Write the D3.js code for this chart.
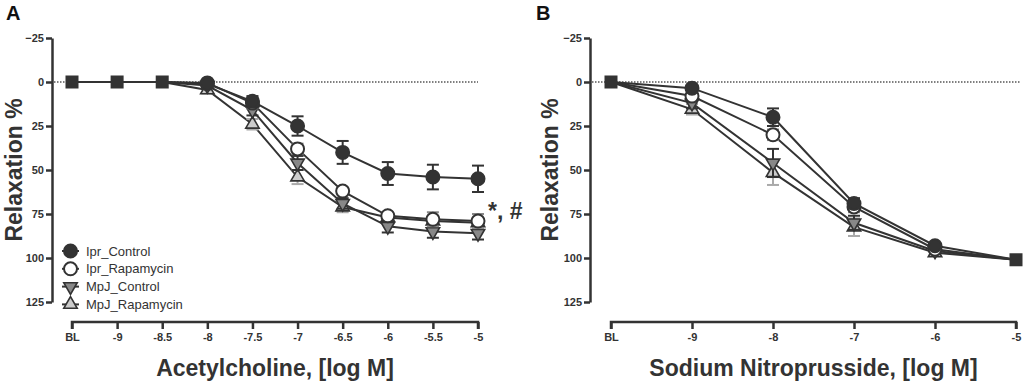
<!DOCTYPE html>
<html>
<head>
<meta charset="utf-8">
<script src="https://cdn.jsdelivr.net/npm/d3@7"></script>
<style>
  body { margin: 0; background: #fff; }
  svg { display: block; font-family: "Liberation Sans", Arial, sans-serif; }
</style>
</head>
<body>
<div id="viz"></div>
<script>
// Panel A - acetylcholine
const doseA = ["BL", "-9", "-8.5", "-8", "-7.5", "-7", "-6.5", "-6", "-5.5", "-5"];
const iprCtrlA = [0, 0, 0, 1, 11, 25, 40, 52, 54, 55];
const iprRapaA = [0, 0, 0, 0.5, 12, 38, 62, 76, 78, 79];
const mpjCtrlA = [0, 0, 0, 2, 16, 46, 69, 82, 85, 86];
const mpjRapaA = [0, 0, 0, 4.5, 24, 54, 71, 77, 79, 80];
const iprCtrlErrA = [0, 0, 0, 1, 3, 5.5, 6.5, 6.5, 7, 7.5];
const iprRapaErrA = [0, 0, 0, 1, 3, 3, 2, 2, 4, 4];
const mpjCtrlErrA = [0, 0, 0, 1, 3, 4, 3, 3.5, 3.5, 3.5];
const mpjRapaErrA = [0, 0, 0, 2, 3, 4, 3, 2, 2, 2];

// Panel B - sodium nitroprusside
const doseB = ["BL", "-9", "-8", "-7", "-6", "-5"];
const iprCtrlB = [0, 3.5, 20, 69, 93, 101];
const iprRapaB = [0, 8, 30, 71, 95, 101];
const mpjCtrlB = [0, 12, 46, 80, 96, 101];
const mpjRapaB = [0, 15.5, 51.5, 82.5, 97, 101];
const iprCtrlErrB = [0, 1, 5, 3, 1, 1];
const iprRapaErrB = [0, 1, 3, 3, 1, 1];
const mpjCtrlErrB = [0, 3, 8, 4, 1, 1];
const mpjRapaErrB = [0, 3, 7, 5, 1, 1];

const yTicks = [-25, 0, 25, 50, 75, 100, 125];
const seriesNames = ["Ipr_Control", "Ipr_Rapamycin", "MpJ_Control", "MpJ_Rapamycin"];

const dark = "#333";
const styles = {
  "Ipr_Control":   { shape: "circle", fill: dark,   err: dark },
  "Ipr_Rapamycin": { shape: "circle", fill: "#fff", err: "#888" },
  "MpJ_Control":   { shape: "down",   fill: "#888", err: dark },
  "MpJ_Rapamycin": { shape: "up",     fill: "#ccc", err: "#aaa" }
};

const svg = d3.select("#viz").append("svg")
  .attr("width", 1024)
  .attr("height", 382);

const y = d3.scaleLinear().domain([-25, 125]).range([38, 302]);

function marker(g, shape, fill, cx, cy) {
  if (shape === "circle") {
    g.append("circle").attr("cx", cx).attr("cy", cy).attr("r", 6.5)
      .attr("fill", fill).attr("stroke", dark).attr("stroke-width", 2);
  } else {
    g.append("path")
      .attr("d", d3.symbol().type(d3.symbolTriangle).size(78))
      .attr("transform", `translate(${cx},${cy})` + (shape === "down" ? " rotate(180)" : ""))
      .attr("fill", fill).attr("stroke", dark).attr("stroke-width", 1.6);
  }
}

function drawPanel(opt) {
  const g = svg.append("g");
  const x = d3.scalePoint().domain(opt.doses).range(opt.xRange);

  // y axis
  const yAx = g.append("g")
    .attr("transform", `translate(${opt.yAxisX},0)`)
    .call(d3.axisLeft(y).tickValues(yTicks).tickSize(6).tickSizeOuter(0).tickFormat(d3.format("d")));
  yAx.select(".domain").attr("stroke", dark).attr("stroke-width", 2.5);
  yAx.selectAll(".tick line").attr("stroke", dark).attr("stroke-width", 2.5);
  yAx.selectAll(".tick text")
    .attr("font-family", "'Liberation Sans Narrow', 'Liberation Sans', sans-serif")
    .attr("font-size", 11).attr("font-weight", "bold").attr("fill", dark).attr("x", -8);

  // x axis
  const xAx = g.append("g")
    .attr("transform", "translate(0,322)")
    .call(d3.axisBottom(x).tickSize(7).tickSizeOuter(0));
  xAx.select(".domain").attr("stroke", dark).attr("stroke-width", 2.5)
    .attr("d", `M${opt.xRange[0]},7V0H${opt.xRange[1]}V7`);
  xAx.selectAll(".tick line").attr("stroke", dark).attr("stroke-width", 2.5);
  xAx.selectAll(".tick text")
    .attr("font-family", "'Liberation Sans Narrow', 'Liberation Sans', sans-serif")
    .attr("font-size", 11).attr("font-weight", "bold").attr("fill", dark).attr("y", 11);

  // dotted zero line
  g.append("line")
    .attr("x1", opt.yAxisX + 2).attr("x2", opt.zeroEnd)
    .attr("y1", y(0)).attr("y2", y(0))
    .attr("stroke", "#000").attr("stroke-width", 1.2).attr("stroke-dasharray", "1.5,1.5");

  // axis titles
  g.append("text")
    .attr("transform", `translate(${opt.yTitleX},${y(50)}) rotate(-90)`)
    .attr("text-anchor", "middle").attr("dominant-baseline", "central")
    .attr("font-size", 23).attr("font-weight", "bold").attr("fill", dark)
    .text("Relaxation %");
  g.append("text")
    .attr("x", (opt.xRange[0] + opt.xRange[1]) / 2).attr("y", 376)
    .attr("text-anchor", "middle")
    .attr("font-size", 23).attr("font-weight", "bold").attr("fill", dark)
    .text(opt.xTitle);

  g.append("text")
    .attr("x", opt.labelX).attr("y", 20)
    .attr("font-size", 20).attr("font-weight", "bold").attr("fill", "#111")
    .text(opt.label);

  // series: drawn last-to-first so Ipr_Control sits on top
  const order = [3, 2, 1, 0];
  const line = d3.line().x((d, i) => x(opt.doses[i])).y(d => y(d));
  order.forEach(k => {
    g.append("path").datum(opt.values[k])
      .attr("d", line).attr("fill", "none")
      .attr("stroke", dark).attr("stroke-width", 2);
  });

  // positions where all four series share the same value -> overlapping marker
  const same = opt.doses.map((d, i) => opt.values.every(v => v[i] === opt.values[0][i]));

  order.forEach(k => {
    const st = styles[seriesNames[k]];
    const vals = opt.values[k], errs = opt.errors[k];
    vals.forEach((v, i) => {
      if (same[i] || errs[i] <= 0) return;
      const cx = x(opt.doses[i]);
      const eg = g.append("g").attr("stroke", st.err).attr("stroke-width", 2);
      eg.append("line").attr("x1", cx).attr("x2", cx).attr("y1", y(v - errs[i])).attr("y2", y(v + errs[i]));
      eg.append("line").attr("x1", cx - 6).attr("x2", cx + 6).attr("y1", y(v - errs[i])).attr("y2", y(v - errs[i]));
      eg.append("line").attr("x1", cx - 6).attr("x2", cx + 6).attr("y1", y(v + errs[i])).attr("y2", y(v + errs[i]));
    });
    vals.forEach((v, i) => {
      if (same[i]) return;
      marker(g, st.shape, st.fill, x(opt.doses[i]), y(v));
    });
  });

  opt.doses.forEach((d, i) => {
    if (!same[i]) return;
    g.append("rect")
      .attr("x", x(d) - 6.5).attr("y", y(opt.values[0][i]) - 6.5)
      .attr("width", 13).attr("height", 13)
      .attr("fill", dark);
  });
  return { g, x };
}

const pA = drawPanel({
  doses: doseA, xRange: [72, 478], yAxisX: 52, zeroEnd: 478, yTitleX: 14,
  xTitle: "Acetylcholine, [log M]", label: "A", labelX: 6,
  values: [iprCtrlA, iprRapaA, mpjCtrlA, mpjRapaA],
  errors: [iprCtrlErrA, iprRapaErrA, mpjCtrlErrA, mpjRapaErrA]
});

drawPanel({
  doses: doseB, xRange: [611, 1016], yAxisX: 590, zeroEnd: 1020, yTitleX: 550,
  xTitle: "Sodium Nitroprusside, [log M]", label: "B", labelX: 536,
  values: [iprCtrlB, iprRapaB, mpjCtrlB, mpjRapaB],
  errors: [iprCtrlErrB, iprRapaErrB, mpjCtrlErrB, mpjRapaErrB]
});

// significance mark next to last point of panel A
pA.g.append("text")
  .attr("x", pA.x("-5") + 10).attr("y", y(iprRapaA[9]) - 2)
  .attr("font-size", 23).attr("font-weight", "bold").attr("fill", dark)
  .text("*, #");

// legend
const legend = pA.g.append("g");
seriesNames.forEach((name, i) => {
  const ly = 251 + i * 17.8;
  const st = styles[name];
  legend.append("line").attr("x1", 62).attr("x2", 79).attr("y1", ly).attr("y2", ly)
    .attr("stroke", dark).attr("stroke-width", 2);
  marker(legend, st.shape, st.fill, 70.5, ly);
  legend.append("text").attr("x", 86).attr("y", ly).attr("dominant-baseline", "central")
    .attr("font-size", 13).attr("fill", dark).text(name);
});
</script>
</body>
</html>
